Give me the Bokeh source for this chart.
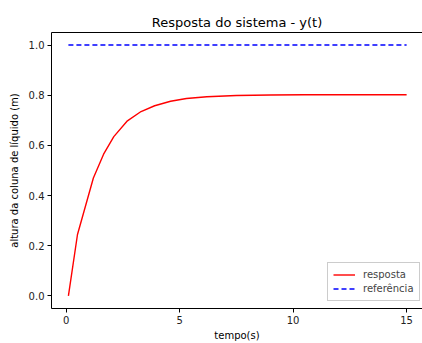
from bokeh.plotting import figure
from bokeh.models import Range1d, FixedTicker, Legend, LegendItem, NumeralTickFormatter, LinearAxis
from bokeh.embed import file_html
from bokeh.resources import INLINE

# data
tempo = [0.1, 0.5, 1.2, 1.65, 2.1, 2.7, 3.3, 3.9, 4.6, 5.3, 6.2, 7.5, 9.0, 10.5, 12.0, 13.5, 15.0]
resposta = [0.0, 0.245, 0.47, 0.565, 0.635, 0.698, 0.735, 0.758, 0.776, 0.787, 0.794, 0.799, 0.801, 0.802, 0.802, 0.802, 0.802]
ref_t = [0.1, 15.0]
referencia = [1.0, 1.0]
x_ticks = [0, 5, 10, 15]
y_ticks = [0.0, 0.2, 0.4, 0.6, 0.8, 1.0]

FONT = "DejaVu Sans"

p = figure(width=422, height=343, output_backend="svg", toolbar_location=None,
           x_range=Range1d(-0.645, 15.7), y_range=Range1d(-0.05, 1.05),
           min_border_left=51, min_border_right=0, min_border_top=32, min_border_bottom=31,
           title="Resposta do sistema - y(t)")

p.title.align = "center"
p.title.text_font = FONT
p.title.text_font_size = "13px"
p.title.text_font_style = "normal"
p.title.text_color = "#000000"
p.title.standoff = 6

p.xgrid.visible = False
p.ygrid.visible = False
p.outline_line_color = None

xax = p.below[0]
yax = p.left[0]
for ax in (xax, yax):
    ax.major_label_text_font = FONT
    ax.major_label_text_font_size = "10px"
    ax.major_label_text_color = "#222222"
    ax.axis_label_text_font = FONT
    ax.axis_label_text_font_size = "10px"
    ax.axis_label_text_font_style = "normal"
    ax.axis_label_text_color = "#000000"
    ax.minor_tick_line_color = None
    ax.major_tick_out = 4
    ax.major_tick_in = 0
    ax.major_label_standoff = 3
    ax.axis_line_color = "#000000"

xax.axis_label_standoff = 3
yax.axis_label_standoff = 6
xax.ticker = FixedTicker(ticks=x_ticks)
yax.ticker = FixedTicker(ticks=y_ticks)
yax.formatter = NumeralTickFormatter(format="0.0")
xax.axis_label = "tempo(s)"
yax.axis_label = "altura da coluna de líquido (m)"

# top spine only (the reference shows no right spine)
top_axis = LinearAxis(ticker=FixedTicker(ticks=[]), major_tick_out=0, major_tick_in=0,
                      minor_tick_line_color=None, major_label_standoff=0,
                      major_label_text_font_size="0px", axis_line_color="#000000")
p.add_layout(top_axis, "above")

r1 = p.line(tempo, resposta, line_color="#ff0000", line_width=1.4)
r2 = p.line(ref_t, referencia, line_color="#0000ff", line_width=1.4, line_dash="5 3")

legend = Legend(items=[LegendItem(label="resposta", renderers=[r1]),
                       LegendItem(label="referência", renderers=[r2])],
                location=(276, 7))
legend.label_text_font = FONT
legend.label_text_font_size = "10px"
legend.label_height = 13
legend.glyph_height = 13
legend.glyph_width = 22
legend.spacing = 1
legend.padding = 5
legend.margin = 0
legend.label_standoff = 8
legend.border_line_color = "#cccccc"
legend.border_line_alpha = 1
legend.background_fill_alpha = 0.8
p.add_layout(legend)

open("out.html", "w").write(file_html(p, INLINE))
